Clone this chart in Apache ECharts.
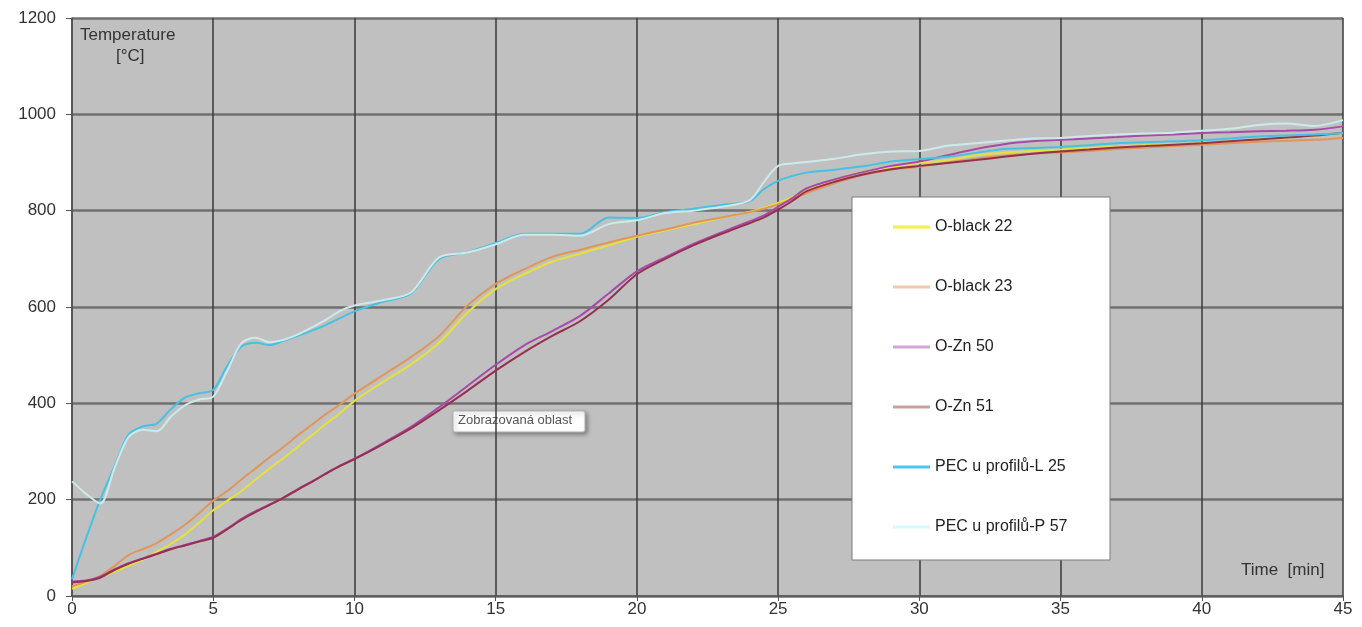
<!DOCTYPE html>
<html>
<head>
<meta charset="utf-8">
<title>Temperature vs. time</title>
<script src="https://cdn.jsdelivr.net/npm/echarts@6/dist/echarts.min.js"></script>
<style>
  html, body { margin: 0; padding: 0; background: #ffffff; }
  #chart { width: 1362px; height: 627px; }
</style>
</head>
<body>
<div id="chart"></div>
<script>
// Time axis samples [min]
const minutes = [0, 0.5, 1, 1.5, 2, 2.5, 3, 3.5, 4, 4.5, 5, 5.5, 6, 6.5, 7, 7.5, 8, 8.5, 9, 9.5, 10,
  11, 12, 13, 14, 15, 16, 17, 18, 19, 20, 21, 22, 23, 24, 24.5, 25, 25.5,
  26, 27, 28, 29, 30, 31, 32, 33, 34, 35, 36, 37, 38, 39, 40, 41, 42, 43, 44, 45];

// Measured temperatures [°C]
const oBlack22 = [15, 27, 40, 50, 63, 75, 92, 108, 128, 152, 178, 198, 218, 242, 265, 287, 310, 334, 358, 380, 405,
  444, 481, 526, 588, 637, 668, 694, 711, 728, 746, 759, 772, 785, 798, 806, 816, 828,
  843, 864, 880, 891, 899, 905, 915, 920, 924, 927, 930, 933, 936, 938, 940, 944, 948, 952, 956, 961];
const oBlack23 = [20, 30, 42, 62, 85, 97, 110, 128, 148, 172, 198, 218, 242, 265, 288, 310, 334, 356, 378, 398, 420,
  458, 496, 540, 603, 648, 678, 704, 719, 734, 748, 761, 775, 786, 797, 804, 813, 823,
  836, 857, 874, 885, 891, 900, 908, 914, 918, 921, 924, 928, 931, 934, 937, 940, 943, 945, 947, 951];
const oZn50 = [30, 32, 40, 55, 68, 78, 88, 98, 106, 114, 123, 140, 160, 176, 190, 205, 222, 238, 255, 271, 285,
  317, 351, 392, 436, 480, 520, 550, 582, 628, 674, 703, 731, 755, 778, 790, 808, 826,
  846, 865, 880, 893, 902, 915, 928, 938, 944, 947, 950, 953, 956, 958, 961, 963, 965, 966, 968, 975];
const oZn51 = [28, 31, 38, 54, 67, 77, 87, 97, 105, 113, 121, 139, 158, 174, 189, 204, 221, 237, 254, 270, 284,
  315, 348, 386, 426, 468, 506, 540, 571, 615, 668, 700, 728, 752, 774, 786, 802, 820,
  840, 860, 875, 886, 893, 899, 905, 912, 918, 923, 927, 931, 934, 937, 940, 944, 948, 952, 956, 962];
const pecL25 = [35, 120, 200, 268, 335, 352, 358, 388, 412, 421, 428, 478, 518, 526, 521, 530, 540, 551, 563, 577, 591,
  611, 628, 700, 714, 733, 752, 752, 752, 786, 785, 797, 804, 812, 820, 845, 862, 872,
  879, 885, 892, 902, 907, 912, 920, 928, 930, 932, 936, 940, 942, 944, 946, 950, 954, 956, 958, 961];
const pecP57 = [238, 212, 192, 265, 330, 345, 342, 372, 396, 408, 414, 468, 525, 536, 527, 532, 543, 558, 574, 592, 603,
  614, 630, 703, 713, 730, 750, 750, 748, 772, 780, 795, 800, 808, 822, 860, 893, 898,
  901, 908, 917, 923, 924, 935, 940, 945, 950, 951, 955, 958, 960, 962, 966, 970, 978, 981, 976, 988];

const seriesNames = ['O-black 22', 'O-black 23', 'O-Zn 50', 'O-Zn 51', 'PEC u profilů-L 25', 'PEC u profilů-P 57'];
const seriesValues = [oBlack22, oBlack23, oZn50, oZn51, pecL25, pecP57];
const lineColors = ['#e6e23a', '#e0965a', '#a84aa8', '#97304e', '#45c2e2', '#cdeaea'];
const legendColors = ['#f2f040', '#f6c8a6', '#d4a4d4', '#c8a0a0', '#48c8f0', '#d8fafa'];

const xTicks = [0, 5, 10, 15, 20, 25, 30, 35, 40, 45];
const yTicks = [0, 200, 400, 600, 800, 1000, 1200];

const chart = echarts.init(document.getElementById('chart'), null, { renderer: 'canvas' });

const font = 'Liberation Sans, Arial, sans-serif';

const option = {
  animation: false,
  backgroundColor: '#ffffff',
  textStyle: { fontFamily: font },
  grid: {
    left: 72, right: 19, top: 18, bottom: 31,
    show: true, backgroundColor: '#c0c0c0', borderWidth: 0
  },
  xAxis: {
    type: 'value',
    min: xTicks[0], max: xTicks[xTicks.length - 1], interval: 5,
    axisLine: { show: true, lineStyle: { color: '#555555', width: 1.5 } },
    axisTick: { show: true, length: 5, lineStyle: { color: '#555555' } },
    axisLabel: { color: '#333333', fontSize: 17, margin: 5, fontFamily: font },
    splitLine: { show: true, lineStyle: { color: '#3a3a3a', width: 1.5 } }
  },
  yAxis: {
    type: 'value',
    min: yTicks[0], max: yTicks[yTicks.length - 1], interval: 200,
    axisLine: { show: true, lineStyle: { color: '#555555', width: 1.5 } },
    axisTick: { show: true, length: 6, lineStyle: { color: '#555555' } },
    axisLabel: { color: '#333333', fontSize: 17, margin: 16, fontFamily: font, formatter: v => String(v) },
    splitLine: { show: true, lineStyle: { color: '#707070', width: 2.5 } }
  },
  legend: {
    orient: 'vertical',
    left: 893, top: 219,
    z: 10,
    icon: 'rect',
    itemWidth: 37, itemHeight: 3,
    itemGap: 44,
    padding: 0,
    selectedMode: false,
    textStyle: { color: '#222222', fontSize: 16, lineHeight: 16, fontFamily: font },
    data: seriesNames.map((n, i) => ({ name: n, itemStyle: { color: legendColors[i] } }))
  },
  graphic: [
    {
      type: 'rect', z: 3,
      shape: { x: 852, y: 197, width: 258, height: 363 },
      style: { fill: '#ffffff', stroke: '#7a7a7a', lineWidth: 1 }
    },
    {
      type: 'text', z: 10,
      style: { x: 80, y: 27, text: 'Temperature', fill: '#333333', font: '17px ' + font }
    },
    {
      type: 'text', z: 10,
      style: { x: 116, y: 48, text: '[°C]', fill: '#333333', font: '17px ' + font }
    },
    {
      type: 'text', z: 10,
      style: { x: 1241, y: 562, text: 'Time  [min]', fill: '#333333', font: '17px ' + font }
    },
    {
      type: 'group', z: 20,
      children: [
        {
          type: 'rect',
          shape: { x: 453, y: 411, width: 132, height: 21, r: 2 },
          style: {
            fill: '#ffffff', stroke: '#b0b0b0', lineWidth: 1,
            shadowBlur: 4, shadowOffsetX: 2, shadowOffsetY: 2, shadowColor: 'rgba(0,0,0,0.35)'
          }
        },
        {
          type: 'text',
          style: { x: 458, y: 414, text: 'Zobrazovaná oblast', fill: '#555555', font: '13px ' + font }
        }
      ]
    }
  ],
  series: seriesNames.map((name, i) => ({
    name: name,
    type: 'line',
    data: minutes.map((t, k) => [t, seriesValues[i][k]]),
    showSymbol: false,
    smooth: 0.3,
    color: lineColors[i],
    lineStyle: { color: lineColors[i], width: 2 },
    z: 2 + i
  }))
};

chart.setOption(option);
</script>
</body>
</html>
